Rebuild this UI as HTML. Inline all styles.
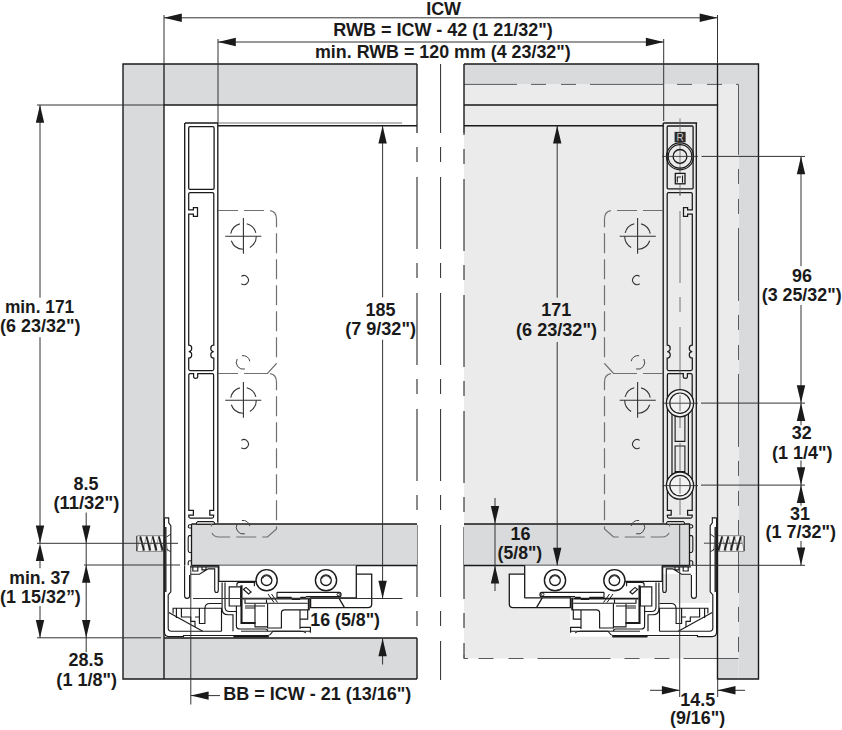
<!DOCTYPE html>
<html><head><meta charset="utf-8"><style>
html,body{margin:0;padding:0;background:#fff;}
body{width:842px;height:730px;overflow:hidden;}
svg{display:block;font-family:"Liberation Sans",sans-serif;}
</style></head><body>
<svg width="842" height="730" viewBox="0 0 842 730" font-family="Liberation Sans, sans-serif" font-weight="bold" fill="#1a1a1a"><rect x="123" y="64" width="41" height="615" fill="#d9dadc" stroke="none" stroke-width="1.3" rx="0" />
<rect x="164" y="64" width="253" height="41" fill="#d9dadc" stroke="none" stroke-width="1.3" rx="0" />
<rect x="164" y="638" width="253" height="41" fill="#d9dadc" stroke="none" stroke-width="1.3" rx="0" />
<rect x="464" y="64" width="294.5" height="20" fill="#d9dadc" stroke="none" stroke-width="1.3" rx="0" />
<rect x="738.5" y="84" width="20" height="595" fill="#d9dadc" stroke="none" stroke-width="1.3" rx="0" />
<rect x="717.5" y="658.5" width="21" height="20.5" fill="#d9dadc" stroke="none" stroke-width="1.3" rx="0" />
<rect x="464" y="84" width="274.5" height="574.5" fill="#ebebeb" stroke="none" stroke-width="1.3" rx="0" />
<line x1="417" y1="105" x2="417" y2="133" stroke="#1a1a1a" stroke-width="1.2" />
<path d="M417,133 V638" stroke="#2a2a2a" stroke-width="1.1" fill="none" stroke-dasharray="72 14 15 15" stroke-dashoffset="72"/>
<line x1="440.6" y1="64" x2="440.6" y2="133" stroke="#2a2a2a" stroke-width="1.0" />
<path d="M440.6,133 V680" stroke="#2a2a2a" stroke-width="1.0" fill="none" stroke-dasharray="72 14 15 15" stroke-dashoffset="72"/>
<path d="M464,133 V658.5" stroke="#2a2a2a" stroke-width="1.1" fill="none" stroke-dasharray="72 14 15 15" stroke-dashoffset="70"/>
<path d="M464,84.4 H738.5 V658.5" stroke="#5a5a5a" stroke-width="1.0" fill="none" stroke-dasharray="73 14 15 15 15 14" stroke-dashoffset="20"/>
<path d="M738.5,658.5 H464" stroke="#5a5a5a" stroke-width="1.0" fill="none" stroke-dasharray="73 14 15 15 15 14" stroke-dashoffset="18"/>
<path d="M464,655 V658.5 H468" stroke="#5a5a5a" stroke-width="1.0" fill="none" />
<rect x="191.5" y="524" width="225.5" height="41.5" fill="#d9dadc" stroke="none" stroke-width="1.3" rx="0" />
<rect x="464" y="524" width="225.5" height="41.5" fill="#d9dadc" stroke="none" stroke-width="1.3" rx="0" />
<path d="M191.5,524 H417 M191.5,565.5 H417 M191.5,524 V565.5" stroke="#1a1a1a" stroke-width="1.3" fill="none" />
<path d="M464,524 H689.5 V565.5 M464,565.5 H689.5" stroke="#1a1a1a" stroke-width="1.3" fill="none" />
<g><path d="M184.7,123 V565.5" stroke="#1a1a1a" stroke-width="1.35" fill="none"/><path d="M217.8,123 V522.7" stroke="#1a1a1a" stroke-width="1.35" fill="none"/><path d="M188.7,194 Q188.7,192.5 190.2,192.5 H212.3 Q213.8,192.5 213.8,194 V345.2 Q210.8,345.2 210.8,348.3 Q210.8,351.5 213.8,351.5 Q210.8,351.5 210.8,354.8 Q210.8,358.2 213.8,358.2 V369 Q213.8,370.5 212.3,370.5 H190.2 Q188.7,370.5 188.7,369 V358.2 Q191.7,358.2 191.7,354.8 Q191.7,351.5 188.7,351.5 Q191.7,351.5 191.7,348.3 Q191.7,345.2 188.7,345.2 V214 H193.4 V216.4 H197.5 V207.5 H193.4 V209.8 H188.7 Z" stroke="#1a1a1a" stroke-width="1.25" fill="none"/><path d="M190.2,373.5 H193.6 V377 Q193.6,378.3 195.6,378.3 Q197.7,378.3 197.7,377 V373.5 H212.3 Q213.6,373.5 213.6,375 V510.4 H209.8 V515 H213.6 V516.6 Q213.6,518.1 212.1,518.1 H190.3 Q188.8,518.1 188.8,516.6 V515 H193.4 V510.4 H188.8 V375 Q188.8,373.5 190.2,373.5 Z" stroke="#1a1a1a" stroke-width="1.25" fill="none"/><path d="M198,521.5 H213 Q214.4,521.5 214.4,523 V524.3 H196.5 V523 Q196.5,521.5 198,521.5 Z" stroke="#1a1a1a" stroke-width="1.0" fill="#c8c8c8"/><path d="M191.3,524.8 H189.8 Q188.2,524.8 188.2,526.4 Q188.2,528 189.8,528 H191.3 M191.3,535.6 H189.8 Q188.2,535.6 188.2,537.5 V550.6 Q188.2,552.5 189.8,552.5 H191.3 M191.3,560.7 H189.8 Q188.2,560.7 188.2,562.5 V565.5" stroke="#1a1a1a" stroke-width="1.1" fill="none"/><rect x="218.8" y="565.5" width="137.5" height="26.8" fill="#fff"/><rect x="356.3" y="574.2" width="15.4" height="33.5" fill="#fff"/><rect x="222" y="592.3" width="134.3" height="15.4" fill="#fff"/><rect x="164.4" y="603" width="146.6" height="33.6" fill="#fff"/><rect x="164.4" y="518" width="6.4" height="118.0" fill="#fff"/><rect x="184.6" y="565.5" width="5.0" height="32.5" fill="#fff"/><rect x="190" y="566.8" width="28.3" height="7.2" fill="#fff"/><rect x="136.8" y="535.7" width="26.8" height="15.7" fill="#f4f4f4" stroke="none"/><path d="M136.8,535.7 H163.6 M136.8,551.4 H163.6" stroke="#8a8a8a" stroke-width="1.0" fill="none"/><path d="M136.8,551.4 L140.3,535.7 L143.0,551.4 M143.0,551.4 L146.5,535.7 L149.2,551.4 M149.2,551.4 L152.7,535.7 L155.4,551.4 M155.4,551.4 L158.9,535.7 L161.6,551.4 M161.6,551.4 L165.1,535.7 L167.8,551.4 " stroke="#8a8a8a" stroke-width="0.8" fill="none"/><path d="M140.3,536.5 L144.1,550.6 M146.5,536.5 L150.3,550.6 M152.7,536.5 L156.5,550.6 M158.9,536.5 L162.7,550.6 " stroke="#222" stroke-width="1.8" fill="none"/><path d="M136.8,536 V551" stroke="#333" stroke-width="1.2" fill="none"/><path d="M164.4,517.9 H168.7 V522.7 L170.8,525.8 V591.8 L168.2,595 V628 Q168.2,631.2 171.4,631.2 H221.5" stroke="#1a1a1a" stroke-width="1.15" fill="none"/><path d="M164.4,517.9 V632 Q164.4,636.6 169,636.6 H183.5 V635.5 H268 Q270,635.5 271.5,633 L273,631.2 H311" stroke="#1a1a1a" stroke-width="1.15" fill="none"/><path d="M165.6,527 V592" stroke="#333" stroke-width="1.9" fill="none"/><path d="M166.6,537 L170.8,534 M166.6,549 L170.8,552" stroke="#1a1a1a" stroke-width="0.9" fill="none"/><path d="M168.8,612.6 L202.7,631.2" stroke="#1a1a1a" stroke-width="1.15" fill="none"/><path d="M173.1,613.6 V608.2 H221.5 V631.2 M176.4,608.2 V618 M181.4,608.2 V617 H190.7 V621.3 H195 V627 M199.4,608.2 V623.5 H204.9 V608.2 M195,617 H199.4" stroke="#1a1a1a" stroke-width="1.15" fill="none"/><path d="M205,608.2 Q205,603.5 210,603.5 H221.5" stroke="#1a1a1a" stroke-width="1.15" fill="none"/><path d="M184.6,565.5 V596 Q184.6,598.3 187.1,598.3 Q189.6,598.3 189.6,596 V575" stroke="#1a1a1a" stroke-width="1.15" fill="none"/><path d="M190.1,566.8 H219 M190.1,574.2 H199.4 L208.2,568.8 H214.7 V590 Q214.7,592.5 216.5,592.5 Q218.3,592.5 218.3,590 V566.8 M192.8,566.8 V571 H197.8 V566.8 M202,566.8 V569.8 H206 V566.8" stroke="#1a1a1a" stroke-width="1.15" fill="none"/><path d="M218.8,565.5 V581.4 H256.4" stroke="#1a1a1a" stroke-width="1.3" fill="none"/><path d="M277,592.3 H339.3 Q341,592.3 341,594.5 Q341,596.7 339.3,596.7 H306 M356.3,565.5 V597.9" stroke="#1a1a1a" stroke-width="1.3" fill="none"/><circle cx="338.3" cy="594.5" r="1.3" stroke="#1a1a1a" stroke-width="0.9" fill="none"/><path d="M356.3,574.2 H371.7 V604 Q371.7,607.7 368,607.7 H310.6 V597.9 H356.3 M338.8,597.9 L344.5,607.7" stroke="#1a1a1a" stroke-width="1.3" fill="none"/><path d="M277,592.3 V597.3 H291 L292.5,599.5 H299.5 L301,597.3 H306" stroke="#1a1a1a" stroke-width="1.15" fill="none"/><path d="M222.1,582.4 V609 Q222.1,614.7 228,614.7 H233 V631.2 M225,582.4 V607 Q225,611.5 229.5,611.5 H236.4" stroke="#1a1a1a" stroke-width="1.15" fill="none"/><path d="M229.2,586.8 H240.7 V606 H229.2 Z" stroke="#1a1a1a" stroke-width="1.15" fill="none"/><path d="M236.9,586.3 V584.5 Q236.9,582.4 239,582.4 H254.4 V586.3" stroke="#1a1a1a" stroke-width="1.15" fill="none"/><path d="M241.5,585.2 V623 H255.5" stroke="#1a1a1a" stroke-width="2.1" fill="none"/><path d="M236.4,606 V625.7 Q236.4,629 240,629 H265.4 Q267.6,629 267.6,631.2" stroke="#1a1a1a" stroke-width="1.15" fill="none"/><path d="M243.5,589.5 L246,587.4 L251.1,592 L248.6,594 Z" stroke="#1a1a1a" stroke-width="1.15" fill="none"/><path d="M242.4,598.6 H307.7" stroke="#1a1a1a" stroke-width="1.9" fill="none"/><path d="M245,599.6 V603.2 H307.7 M266.5,599.6 V603.2 M245,606 H265 M245,608 H255" stroke="#1a1a1a" stroke-width="1.15" fill="none"/><path d="M255,603.8 V626.8 H267.6 M267.6,603.8 V628 H281.4 V613 Q281.4,609.8 284.6,609.8 H300 V629 M300,609.8 H307.7 V619.1 H300 M300,627.3 H310.4 V632.8" stroke="#1a1a1a" stroke-width="1.15" fill="none"/><path d="M308.8,597.8 V610.4" stroke="#1a1a1a" stroke-width="2.0" fill="none"/><path d="M268,594 L274,602.5 M271.5,594 L277.5,602.5" stroke="#1a1a1a" stroke-width="1.0" fill="none"/><path d="M241,631.2 H300 Q304,631.2 306,633 M233.6,636.4 H268.6" stroke="#1a1a1a" stroke-width="1.0" fill="none"/><path d="M233.6,636.6 H268.6" stroke="#1a1a1a" stroke-width="1.8" fill="none"/><circle cx="266.6" cy="580.2" r="10.6" stroke="#1a1a1a" stroke-width="1.4" fill="#fff"/><circle cx="266.6" cy="580.2" r="5.3" stroke="#1a1a1a" stroke-width="1.3" fill="none"/><path d="M262.6,578.6 A4.2,4.2 0 0 1 270.6,578.6" stroke="#1a1a1a" stroke-width="1" fill="none"/><circle cx="326" cy="580.2" r="10.6" stroke="#1a1a1a" stroke-width="1.4" fill="#fff"/><circle cx="326" cy="580.2" r="5.3" stroke="#1a1a1a" stroke-width="1.3" fill="none"/><path d="M322,578.6 A4.2,4.2 0 0 1 330,578.6" stroke="#1a1a1a" stroke-width="1" fill="none"/></g>
<g transform="translate(881,0) scale(-1,1)"><path d="M184.7,123 V565.5" stroke="#1a1a1a" stroke-width="1.35" fill="none"/><path d="M217.8,123 V522.7" stroke="#1a1a1a" stroke-width="1.35" fill="none"/><path d="M188.7,194 Q188.7,192.5 190.2,192.5 H212.3 Q213.8,192.5 213.8,194 V345.2 Q210.8,345.2 210.8,348.3 Q210.8,351.5 213.8,351.5 Q210.8,351.5 210.8,354.8 Q210.8,358.2 213.8,358.2 V369 Q213.8,370.5 212.3,370.5 H190.2 Q188.7,370.5 188.7,369 V358.2 Q191.7,358.2 191.7,354.8 Q191.7,351.5 188.7,351.5 Q191.7,351.5 191.7,348.3 Q191.7,345.2 188.7,345.2 V214 H193.4 V216.4 H197.5 V207.5 H193.4 V209.8 H188.7 Z" stroke="#1a1a1a" stroke-width="1.25" fill="none"/><path d="M190.2,373.5 H193.6 V377 Q193.6,378.3 195.6,378.3 Q197.7,378.3 197.7,377 V373.5 H212.3 Q213.6,373.5 213.6,375 V510.4 H209.8 V515 H213.6 V516.6 Q213.6,518.1 212.1,518.1 H190.3 Q188.8,518.1 188.8,516.6 V515 H193.4 V510.4 H188.8 V375 Q188.8,373.5 190.2,373.5 Z" stroke="#1a1a1a" stroke-width="1.25" fill="none"/><path d="M198,521.5 H213 Q214.4,521.5 214.4,523 V524.3 H196.5 V523 Q196.5,521.5 198,521.5 Z" stroke="#1a1a1a" stroke-width="1.0" fill="#c8c8c8"/><path d="M191.3,524.8 H189.8 Q188.2,524.8 188.2,526.4 Q188.2,528 189.8,528 H191.3 M191.3,535.6 H189.8 Q188.2,535.6 188.2,537.5 V550.6 Q188.2,552.5 189.8,552.5 H191.3 M191.3,560.7 H189.8 Q188.2,560.7 188.2,562.5 V565.5" stroke="#1a1a1a" stroke-width="1.1" fill="none"/><rect x="218.8" y="565.5" width="137.5" height="26.8" fill="#fff"/><rect x="356.3" y="574.2" width="15.4" height="33.5" fill="#fff"/><rect x="222" y="592.3" width="134.3" height="15.4" fill="#fff"/><rect x="164.4" y="603" width="146.6" height="33.6" fill="#fff"/><rect x="164.4" y="518" width="6.4" height="118.0" fill="#fff"/><rect x="184.6" y="565.5" width="5.0" height="32.5" fill="#fff"/><rect x="190" y="566.8" width="28.3" height="7.2" fill="#fff"/><rect x="136.8" y="535.7" width="26.8" height="15.7" fill="#f4f4f4" stroke="none"/><path d="M136.8,535.7 H163.6 M136.8,551.4 H163.6" stroke="#8a8a8a" stroke-width="1.0" fill="none"/><path d="M136.8,551.4 L140.3,535.7 L143.0,551.4 M143.0,551.4 L146.5,535.7 L149.2,551.4 M149.2,551.4 L152.7,535.7 L155.4,551.4 M155.4,551.4 L158.9,535.7 L161.6,551.4 M161.6,551.4 L165.1,535.7 L167.8,551.4 " stroke="#8a8a8a" stroke-width="0.8" fill="none"/><path d="M140.3,536.5 L144.1,550.6 M146.5,536.5 L150.3,550.6 M152.7,536.5 L156.5,550.6 M158.9,536.5 L162.7,550.6 " stroke="#222" stroke-width="1.8" fill="none"/><path d="M136.8,536 V551" stroke="#333" stroke-width="1.2" fill="none"/><path d="M164.4,517.9 H168.7 V522.7 L170.8,525.8 V591.8 L168.2,595 V628 Q168.2,631.2 171.4,631.2 H221.5" stroke="#1a1a1a" stroke-width="1.15" fill="none"/><path d="M164.4,517.9 V632 Q164.4,636.6 169,636.6 H183.5 V635.5 H268 Q270,635.5 271.5,633 L273,631.2 H311" stroke="#1a1a1a" stroke-width="1.15" fill="none"/><path d="M165.6,527 V592" stroke="#333" stroke-width="1.9" fill="none"/><path d="M166.6,537 L170.8,534 M166.6,549 L170.8,552" stroke="#1a1a1a" stroke-width="0.9" fill="none"/><path d="M168.8,612.6 L202.7,631.2" stroke="#1a1a1a" stroke-width="1.15" fill="none"/><path d="M173.1,613.6 V608.2 H221.5 V631.2 M176.4,608.2 V618 M181.4,608.2 V617 H190.7 V621.3 H195 V627 M199.4,608.2 V623.5 H204.9 V608.2 M195,617 H199.4" stroke="#1a1a1a" stroke-width="1.15" fill="none"/><path d="M205,608.2 Q205,603.5 210,603.5 H221.5" stroke="#1a1a1a" stroke-width="1.15" fill="none"/><path d="M184.6,565.5 V596 Q184.6,598.3 187.1,598.3 Q189.6,598.3 189.6,596 V575" stroke="#1a1a1a" stroke-width="1.15" fill="none"/><path d="M190.1,566.8 H219 M190.1,574.2 H199.4 L208.2,568.8 H214.7 V590 Q214.7,592.5 216.5,592.5 Q218.3,592.5 218.3,590 V566.8 M192.8,566.8 V571 H197.8 V566.8 M202,566.8 V569.8 H206 V566.8" stroke="#1a1a1a" stroke-width="1.15" fill="none"/><path d="M218.8,565.5 V581.4 H256.4" stroke="#1a1a1a" stroke-width="1.3" fill="none"/><path d="M277,592.3 H339.3 Q341,592.3 341,594.5 Q341,596.7 339.3,596.7 H306 M356.3,565.5 V597.9" stroke="#1a1a1a" stroke-width="1.3" fill="none"/><circle cx="338.3" cy="594.5" r="1.3" stroke="#1a1a1a" stroke-width="0.9" fill="none"/><path d="M356.3,574.2 H371.7 V604 Q371.7,607.7 368,607.7 H310.6 V597.9 H356.3 M338.8,597.9 L344.5,607.7" stroke="#1a1a1a" stroke-width="1.3" fill="none"/><path d="M277,592.3 V597.3 H291 L292.5,599.5 H299.5 L301,597.3 H306" stroke="#1a1a1a" stroke-width="1.15" fill="none"/><path d="M222.1,582.4 V609 Q222.1,614.7 228,614.7 H233 V631.2 M225,582.4 V607 Q225,611.5 229.5,611.5 H236.4" stroke="#1a1a1a" stroke-width="1.15" fill="none"/><path d="M229.2,586.8 H240.7 V606 H229.2 Z" stroke="#1a1a1a" stroke-width="1.15" fill="none"/><path d="M236.9,586.3 V584.5 Q236.9,582.4 239,582.4 H254.4 V586.3" stroke="#1a1a1a" stroke-width="1.15" fill="none"/><path d="M241.5,585.2 V623 H255.5" stroke="#1a1a1a" stroke-width="2.1" fill="none"/><path d="M236.4,606 V625.7 Q236.4,629 240,629 H265.4 Q267.6,629 267.6,631.2" stroke="#1a1a1a" stroke-width="1.15" fill="none"/><path d="M243.5,589.5 L246,587.4 L251.1,592 L248.6,594 Z" stroke="#1a1a1a" stroke-width="1.15" fill="none"/><path d="M242.4,598.6 H307.7" stroke="#1a1a1a" stroke-width="1.9" fill="none"/><path d="M245,599.6 V603.2 H307.7 M266.5,599.6 V603.2 M245,606 H265 M245,608 H255" stroke="#1a1a1a" stroke-width="1.15" fill="none"/><path d="M255,603.8 V626.8 H267.6 M267.6,603.8 V628 H281.4 V613 Q281.4,609.8 284.6,609.8 H300 V629 M300,609.8 H307.7 V619.1 H300 M300,627.3 H310.4 V632.8" stroke="#1a1a1a" stroke-width="1.15" fill="none"/><path d="M308.8,597.8 V610.4" stroke="#1a1a1a" stroke-width="2.0" fill="none"/><path d="M268,594 L274,602.5 M271.5,594 L277.5,602.5" stroke="#1a1a1a" stroke-width="1.0" fill="none"/><path d="M241,631.2 H300 Q304,631.2 306,633 M233.6,636.4 H268.6" stroke="#1a1a1a" stroke-width="1.0" fill="none"/><path d="M233.6,636.6 H268.6" stroke="#1a1a1a" stroke-width="1.8" fill="none"/><circle cx="266.6" cy="580.2" r="10.6" stroke="#1a1a1a" stroke-width="1.4" fill="#fff"/><circle cx="266.6" cy="580.2" r="5.3" stroke="#1a1a1a" stroke-width="1.3" fill="none"/><path d="M262.6,578.6 A4.2,4.2 0 0 1 270.6,578.6" stroke="#1a1a1a" stroke-width="1" fill="none"/><circle cx="326" cy="580.2" r="10.6" stroke="#1a1a1a" stroke-width="1.4" fill="#fff"/><circle cx="326" cy="580.2" r="5.3" stroke="#1a1a1a" stroke-width="1.3" fill="none"/><path d="M322,578.6 A4.2,4.2 0 0 1 330,578.6" stroke="#1a1a1a" stroke-width="1" fill="none"/></g>
<path d="M417,64 H123 V679 H417 M417,64 V105 M417,638 V679 M417,105 H164 V679 M164,638 H417" stroke="#1a1a1a" stroke-width="1.4" fill="none" />
<path d="M464,64 H758.5 V679 H717.5 V105 H464 M464,64 V133" stroke="#1a1a1a" stroke-width="1.4" fill="none" />
<path d="M185,123 H218" stroke="#1a1a1a" stroke-width="1.3" fill="none" />
<rect x="188.7" y="126.7" width="25.4" height="62.6" fill="none" stroke="#1a1a1a" stroke-width="1.3" rx="1.2" />
<path d="M663.3,123 H697.1" stroke="#1a1a1a" stroke-width="1.3" fill="none" />
<rect x="667.2" y="126" width="25.9" height="62.8" fill="none" stroke="#1a1a1a" stroke-width="1.3" rx="1" />
<path d="M680,118.4 V195" stroke="#666" stroke-width="0.8" fill="none" />
<rect x="674.6" y="131.9" width="11" height="10.4" fill="#2a2a2a" stroke="none" stroke-width="1.3" rx="0" />
<text x="680.2" y="140.6" font-size="10" fill="#c8c8c8" text-anchor="middle" font-weight="normal">R</text>
<circle cx="680" cy="156.4" r="13.5" stroke="#1a1a1a" stroke-width="1.2" fill="none" />
<circle cx="680" cy="156.4" r="11.8" stroke="#1a1a1a" stroke-width="1.2" fill="none" />
<circle cx="680" cy="156.4" r="6.9" stroke="#1a1a1a" stroke-width="1.3" fill="none" />
<path d="M662,156.4 H698" stroke="#333" stroke-width="0.9" fill="none" />
<rect x="675.3" y="173.4" width="9.7" height="10.4" fill="#f0f0f0" stroke="#1a1a1a" stroke-width="1.3" rx="0" />
<path d="M677.3,182.5 V177 H681 M682.5,175.5 V182.8" stroke="#1a1a1a" stroke-width="1.1" fill="none" />
<path d="M672,403 V485 M688.4,403 V485" stroke="#1a1a1a" stroke-width="1.2" fill="none" />
<path d="M675.1,415.8 H684.9 V441.4 H675.1 Z M675.1,446 H684.9 V471.6 H675.1 Z" stroke="#1a1a1a" stroke-width="1.1" fill="none" />
<path d="M680,192 V524" stroke="#555" stroke-width="0.8" fill="none" stroke-dasharray="72 14 15 15" stroke-dashoffset="97"/>
<circle cx="680" cy="403.2" r="13.6" stroke="#1a1a1a" stroke-width="1.3" fill="#f2f2f2" />
<circle cx="680" cy="403.2" r="10.2" stroke="#1a1a1a" stroke-width="1.2" fill="none" />
<path d="M662.5,403.2 H698" stroke="#333" stroke-width="0.9" fill="none" />
<path d="M680,395.2 V411.2" stroke="#555" stroke-width="0.8" fill="none" />
<circle cx="680" cy="485.6" r="13.6" stroke="#1a1a1a" stroke-width="1.3" fill="#f2f2f2" />
<circle cx="680" cy="485.6" r="10.2" stroke="#1a1a1a" stroke-width="1.2" fill="none" />
<path d="M662.5,485.6 H698" stroke="#333" stroke-width="0.9" fill="none" />
<path d="M680,477.6 V493.6" stroke="#555" stroke-width="0.8" fill="none" />
<path d="M218,125.7 H417" stroke="#1a1a1a" stroke-width="1.4" fill="none" />
<line x1="218" y1="123" x2="402" y2="123" stroke="#777" stroke-width="1.0" />
<path d="M464,125.7 H663.3" stroke="#1a1a1a" stroke-width="1.4" fill="none" />
<g><path d="M218,210.5 H268 Q276.5,210.5 276.5,219 V363.5 L267.5,373.5 H262" stroke="#707070" stroke-width="1.2" fill="none" stroke-dasharray="20 6"/><path d="M218,373.5 H268 Q276.5,373.5 276.5,382 V529 L267.5,537 H219 Q211.4,537 211.4,529 V524" stroke="#707070" stroke-width="1.2" fill="none" stroke-dasharray="20 6"/><path d="M239.84,223.90 A12.9,12.9 0 0 0 230.78,233.62 M255.86,232.96 A12.9,12.9 0 0 0 246.74,223.84 M249.85,247.47 A12.9,12.9 0 0 0 256.30,236.30 M231.28,240.71 A12.9,12.9 0 0 0 242.95,249.19 " stroke="#333" stroke-width="1.1" fill="none"/><path d="M225.2,236.3 H261.3 M243.4,218.10000000000002 V253.8" stroke="#333" stroke-width="1.1"/><path d="M239.84,387.90 A12.9,12.9 0 0 0 230.78,397.62 M255.86,396.96 A12.9,12.9 0 0 0 246.74,387.84 M249.85,411.47 A12.9,12.9 0 0 0 256.30,400.30 M231.28,404.71 A12.9,12.9 0 0 0 242.95,413.19 " stroke="#333" stroke-width="1.1" fill="none"/><path d="M225.2,400.3 H261.3 M243.4,382.1 V417.8" stroke="#333" stroke-width="1.1"/><path d="M241.32,276.41 A4.5,4.5 0 1 1 241.32,283.79 " stroke="#333" stroke-width="1.1" fill="none"/><path d="M241.32,440.41 A4.5,4.5 0 1 1 241.32,447.79 " stroke="#333" stroke-width="1.1" fill="none"/><path d="M241.92,355.70 A6.8,6.8 0 0 1 249.80,361.22 M244.86,368.97 A6.8,6.8 0 0 1 237.21,359.00 " stroke="#444" stroke-width="1.0" fill="none"/><path d="M241.92,520.50 A6.8,6.8 0 0 1 249.80,526.02 M244.86,533.77 A6.8,6.8 0 0 1 237.21,523.80 " stroke="#444" stroke-width="1.0" fill="none"/></g>
<g transform="translate(881,0) scale(-1,1)"><path d="M218,210.5 H268 Q276.5,210.5 276.5,219 V363.5 L267.5,373.5 H262" stroke="#707070" stroke-width="1.2" fill="none" stroke-dasharray="20 6"/><path d="M218,373.5 H268 Q276.5,373.5 276.5,382 V529 L267.5,537 H219 Q211.4,537 211.4,529 V524" stroke="#707070" stroke-width="1.2" fill="none" stroke-dasharray="20 6"/><path d="M239.84,223.90 A12.9,12.9 0 0 0 230.78,233.62 M255.86,232.96 A12.9,12.9 0 0 0 246.74,223.84 M249.85,247.47 A12.9,12.9 0 0 0 256.30,236.30 M231.28,240.71 A12.9,12.9 0 0 0 242.95,249.19 " stroke="#333" stroke-width="1.1" fill="none"/><path d="M225.2,236.3 H261.3 M243.4,218.10000000000002 V253.8" stroke="#333" stroke-width="1.1"/><path d="M239.84,387.90 A12.9,12.9 0 0 0 230.78,397.62 M255.86,396.96 A12.9,12.9 0 0 0 246.74,387.84 M249.85,411.47 A12.9,12.9 0 0 0 256.30,400.30 M231.28,404.71 A12.9,12.9 0 0 0 242.95,413.19 " stroke="#333" stroke-width="1.1" fill="none"/><path d="M225.2,400.3 H261.3 M243.4,382.1 V417.8" stroke="#333" stroke-width="1.1"/><path d="M241.32,276.41 A4.5,4.5 0 1 1 241.32,283.79 " stroke="#333" stroke-width="1.1" fill="none"/><path d="M241.32,440.41 A4.5,4.5 0 1 1 241.32,447.79 " stroke="#333" stroke-width="1.1" fill="none"/><path d="M241.92,355.70 A6.8,6.8 0 0 1 249.80,361.22 M244.86,368.97 A6.8,6.8 0 0 1 237.21,359.00 " stroke="#444" stroke-width="1.0" fill="none"/><path d="M241.92,520.50 A6.8,6.8 0 0 1 249.80,526.02 M244.86,533.77 A6.8,6.8 0 0 1 237.21,523.80 " stroke="#444" stroke-width="1.0" fill="none"/></g>
<line x1="164" y1="15" x2="164" y2="64" stroke="#333333" stroke-width="1.0" />
<line x1="164" y1="64" x2="164" y2="105" stroke="#1a1a1a" stroke-width="1.3" />
<line x1="717.5" y1="15" x2="717.5" y2="64" stroke="#333333" stroke-width="1.0" />
<line x1="717.5" y1="64" x2="717.5" y2="105" stroke="#1a1a1a" stroke-width="1.3" />
<line x1="164" y1="17.8" x2="717.5" y2="17.8" stroke="#333333" stroke-width="1.0" />
<polygon points="164,17.8 181.8,13.6 181.8,22" fill="#1a1a1a"/>
<polygon points="717.5,17.8 699.7,13.6 699.7,22" fill="#1a1a1a"/>
<line x1="218" y1="39" x2="218" y2="123" stroke="#333333" stroke-width="1.0" />
<line x1="663.7" y1="39" x2="663.7" y2="121" stroke="#333333" stroke-width="1.0" />
<line x1="218" y1="42" x2="663.7" y2="42" stroke="#333333" stroke-width="1.0" />
<polygon points="218,42 235.8,37.8 235.8,46.2" fill="#1a1a1a"/>
<polygon points="663.7,42 645.9,37.8 645.9,46.2" fill="#1a1a1a"/>
<line x1="37" y1="105" x2="164" y2="105" stroke="#333333" stroke-width="1.0" />
<line x1="40" y1="105" x2="40" y2="297.7" stroke="#333333" stroke-width="1.0" />
<line x1="40" y1="337.2" x2="40" y2="543.3" stroke="#333333" stroke-width="1.0" />
<polygon points="40,105 35.8,122.8 44.2,122.8" fill="#1a1a1a"/>
<polygon points="40,543.3 35.8,525.5 44.2,525.5" fill="#1a1a1a"/>
<polygon points="40,543.3 35.8,561.1 44.2,561.1" fill="#1a1a1a"/>
<line x1="40" y1="560" x2="40" y2="568.2" stroke="#333333" stroke-width="1.0" />
<line x1="40" y1="606.1" x2="40" y2="637.8" stroke="#333333" stroke-width="1.0" />
<polygon points="40,637.8 35.8,620 44.2,620" fill="#1a1a1a"/>
<line x1="37" y1="543.3" x2="178" y2="543.3" stroke="#333333" stroke-width="1.0" />
<line x1="84" y1="565" x2="180" y2="565" stroke="#333333" stroke-width="1.0" />
<line x1="37" y1="637.8" x2="161" y2="637.8" stroke="#333333" stroke-width="1.0" />
<line x1="86.2" y1="512.5" x2="86.2" y2="652.1" stroke="#333333" stroke-width="1.0" />
<polygon points="86.2,543.3 82,525.5 90.4,525.5" fill="#1a1a1a"/>
<polygon points="86.2,565 82,582.8 90.4,582.8" fill="#1a1a1a"/>
<polygon points="86.2,637.8 82,620 90.4,620" fill="#1a1a1a"/>
<line x1="382.6" y1="125.7" x2="382.6" y2="297.4" stroke="#333333" stroke-width="1.0" />
<line x1="382.6" y1="339.7" x2="382.6" y2="598.5" stroke="#333333" stroke-width="1.0" />
<polygon points="382.6,125.7 378.4,143.5 386.8,143.5" fill="#1a1a1a"/>
<polygon points="382.6,598.5 378.4,580.7 386.8,580.7" fill="#1a1a1a"/>
<line x1="193" y1="598.5" x2="402.5" y2="598.5" stroke="#333333" stroke-width="1.0" />
<line x1="382.6" y1="638.4" x2="382.6" y2="664.5" stroke="#333333" stroke-width="1.0" />
<polygon points="382.6,638.4 378.4,656.2 386.8,656.2" fill="#1a1a1a"/>
<line x1="190.8" y1="565.5" x2="190.8" y2="704.5" stroke="#333333" stroke-width="1.0" />
<line x1="190.8" y1="695.6" x2="220" y2="695.6" stroke="#333333" stroke-width="1.0" />
<polygon points="190.8,695.6 208.6,691.4 208.6,699.8" fill="#1a1a1a"/>
<line x1="557.2" y1="125.7" x2="557.2" y2="297.7" stroke="#333333" stroke-width="1.0" />
<line x1="557.2" y1="342" x2="557.2" y2="565.5" stroke="#333333" stroke-width="1.0" />
<polygon points="557.2,125.7 553,143.5 561.4,143.5" fill="#1a1a1a"/>
<polygon points="557.2,565.5 553,547.7 561.4,547.7" fill="#1a1a1a"/>
<line x1="495" y1="498" x2="495" y2="591" stroke="#333333" stroke-width="1.0" />
<polygon points="495,523.7 490.8,505.9 499.2,505.9" fill="#1a1a1a"/>
<polygon points="495,565.6 490.8,583.4 499.2,583.4" fill="#1a1a1a"/>
<line x1="701.5" y1="156.4" x2="805" y2="156.4" stroke="#333333" stroke-width="1.0" />
<line x1="701" y1="403.1" x2="805" y2="403.1" stroke="#333333" stroke-width="1.0" />
<line x1="701" y1="485.1" x2="805" y2="485.1" stroke="#333333" stroke-width="1.0" />
<line x1="689.5" y1="565.3" x2="805" y2="565.3" stroke="#333333" stroke-width="1.0" />
<line x1="704" y1="543.2" x2="742" y2="543.2" stroke="#333333" stroke-width="0.9" />
<line x1="801" y1="156.4" x2="801" y2="266.2" stroke="#333333" stroke-width="1.0" />
<line x1="801" y1="305" x2="801" y2="403.1" stroke="#333333" stroke-width="1.0" />
<polygon points="801,156.4 796.8,174.2 805.2,174.2" fill="#1a1a1a"/>
<polygon points="801,403.1 796.8,385.3 805.2,385.3" fill="#1a1a1a"/>
<line x1="801" y1="403.1" x2="801" y2="425.2" stroke="#333333" stroke-width="1.0" />
<line x1="801" y1="460.4" x2="801" y2="485.1" stroke="#333333" stroke-width="1.0" />
<polygon points="801,403.1 796.8,420.9 805.2,420.9" fill="#1a1a1a"/>
<polygon points="801,485.1 796.8,467.3 805.2,467.3" fill="#1a1a1a"/>
<line x1="801" y1="485.1" x2="801" y2="505.7" stroke="#333333" stroke-width="1.0" />
<line x1="801" y1="541" x2="801" y2="565.3" stroke="#333333" stroke-width="1.0" />
<polygon points="801,485.1 796.8,502.9 805.2,502.9" fill="#1a1a1a"/>
<polygon points="801,565.3 796.8,547.5 805.2,547.5" fill="#1a1a1a"/>
<line x1="679.7" y1="524" x2="679.7" y2="697" stroke="#333333" stroke-width="1.0" />
<line x1="717.7" y1="679" x2="717.7" y2="697" stroke="#333333" stroke-width="1.0" />
<line x1="650" y1="690.3" x2="679.7" y2="690.3" stroke="#333333" stroke-width="1.0" />
<polygon points="679.7,690.3 661.9,686.1 661.9,694.5" fill="#1a1a1a"/>
<line x1="717.7" y1="690.3" x2="745" y2="690.3" stroke="#333333" stroke-width="1.0" />
<polygon points="717.7,690.3 735.5,686.1 735.5,694.5" fill="#1a1a1a"/>
<text x="426.15" y="14.85" font-size="17.6" textLength="34.90" lengthAdjust="spacingAndGlyphs">ICW</text>
<text x="333.38" y="35.74" font-size="17.6" textLength="219.35" lengthAdjust="spacingAndGlyphs">RWB = ICW - 42 (1 21/32&quot;)</text>
<text x="314.99" y="58.00" font-size="17.6" textLength="255.71" lengthAdjust="spacingAndGlyphs">min. RWB = 120 mm (4 23/32&quot;)</text>
<text x="4.92" y="312.60" font-size="17.6" textLength="69.30" lengthAdjust="spacingAndGlyphs">min. 171</text>
<text x="0.05" y="331.90" font-size="17.6" textLength="80.33" lengthAdjust="spacingAndGlyphs">(6 23/32&quot;)</text>
<text x="73.60" y="490.20" font-size="17.6" textLength="24.97" lengthAdjust="spacingAndGlyphs">8.5</text>
<text x="53.46" y="509.20" font-size="17.6" textLength="65.92" lengthAdjust="spacingAndGlyphs">(11/32&quot;)</text>
<text x="9.19" y="583.70" font-size="17.6" textLength="60.93" lengthAdjust="spacingAndGlyphs">min. 37</text>
<text x="0.05" y="602.90" font-size="17.6" textLength="80.79" lengthAdjust="spacingAndGlyphs">(1 15/32”)</text>
<text x="68.59" y="666.40" font-size="17.6" textLength="34.94" lengthAdjust="spacingAndGlyphs">28.5</text>
<text x="56.38" y="685.90" font-size="17.6" textLength="60.66" lengthAdjust="spacingAndGlyphs">(1 1/8&quot;)</text>
<text x="365.55" y="316.40" font-size="17.6" textLength="29.94" lengthAdjust="spacingAndGlyphs">185</text>
<text x="345.17" y="335.40" font-size="17.6" textLength="70.84" lengthAdjust="spacingAndGlyphs">(7 9/32&quot;)</text>
<text x="541.35" y="316.40" font-size="17.6" textLength="29.94" lengthAdjust="spacingAndGlyphs">171</text>
<text x="516.07" y="335.60" font-size="17.6" textLength="80.91" lengthAdjust="spacingAndGlyphs">(6 23/32&quot;)</text>
<text x="310.29" y="626.40" font-size="17.6" textLength="69.71" lengthAdjust="spacingAndGlyphs">16 (5/8&quot;)</text>
<text x="223.18" y="699.80" font-size="17.6" textLength="188.09" lengthAdjust="spacingAndGlyphs">BB = ICW - 21 (13/16&quot;)</text>
<text x="510.60" y="540.00" font-size="17.6" textLength="19.98" lengthAdjust="spacingAndGlyphs">16</text>
<text x="497.60" y="559.20" font-size="17.6" textLength="44.63" lengthAdjust="spacingAndGlyphs">(5/8&quot;)</text>
<text x="792.06" y="281.70" font-size="17.6" textLength="19.97" lengthAdjust="spacingAndGlyphs">96</text>
<text x="761.69" y="301.30" font-size="17.6" textLength="79.89" lengthAdjust="spacingAndGlyphs">(3 25/32&quot;)</text>
<text x="791.74" y="439.10" font-size="17.6" textLength="19.98" lengthAdjust="spacingAndGlyphs">32</text>
<text x="771.98" y="458.50" font-size="17.6" textLength="60.55" lengthAdjust="spacingAndGlyphs">(1 1/4&quot;)</text>
<text x="790.04" y="519.60" font-size="17.6" textLength="19.97" lengthAdjust="spacingAndGlyphs">31</text>
<text x="765.48" y="538.10" font-size="17.6" textLength="70.53" lengthAdjust="spacingAndGlyphs">(1 7/32&quot;)</text>
<text x="680.19" y="706.40" font-size="17.6" textLength="34.94" lengthAdjust="spacingAndGlyphs">14.5</text>
<text x="669.98" y="724.20" font-size="17.6" textLength="55.13" lengthAdjust="spacingAndGlyphs">(9/16&quot;)</text></svg>
</body></html>
